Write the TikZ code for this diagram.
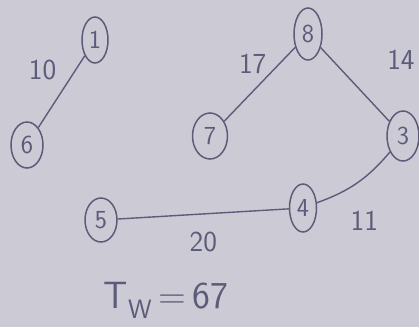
\documentclass[tikz,border=0pt]{standalone}
\usepackage{tikz}
\usetikzlibrary{positioning,shapes.geometric}
\definecolor{paper}{RGB}{204,203,213}
\definecolor{ink}{RGB}{92,92,122}

\begin{document}
\begin{tikzpicture}[
  x=1pt, y=-1pt,
  vtx/.style={draw=ink,line width=1.5pt,ellipse,inner sep=0pt,minimum width=30,minimum height=46,
    text=ink,font=\sffamily\fontsize{26}{26}\selectfont},
  edge/.style={draw=ink,line width=1.4pt},
  wt/.style={text=ink,font=\sffamily\fontsize{29}{29}\selectfont}
  ]

   \fill [paper] (0,0) rectangle (419,327);
   \useasboundingbox (0,0) rectangle (419,327);

   % left tree
   \node (n1) [vtx,minimum width=26] at (95,40) {1};
   \node (n6) [vtx,minimum width=32] at (27,145) {6};
   \draw [edge] (n6) to node[wt,shift={(-19,-22)}] {10} (n1);

   % right tree
   \node (n8) [vtx,minimum width=28,minimum height=52] at (308,34) {8};
   \node (n7) [vtx,minimum width=35] at (210,136) {7};
   \node (n3) [vtx,minimum width=32,minimum height=50] at (403,136) {3};
   \node (n4) [vtx,minimum width=27,minimum height=48] at (303,208) {4};
   \node (n5) [vtx,minimum width=32,minimum height=44] at (101,220) {5};

   \draw [edge] (n7) to node[wt,shift={(-7,-20)}] {17} (n8);
   \draw [edge] (n8) to node[wt,shift={(46,-25)}] {14} (n3);
   \draw [edge] (n3) to[bend left=15] node[wt,shift={(7,38)}] {11} (n4);
   \draw [edge] (n4) to node[wt,shift={(0,28)}] {20} (n5);

   \node (tw) [text=ink,font=\sffamily\fontsize{38}{38}\selectfont] at (166,300) {T\textsubscript{W}\,=\,67};

\end{tikzpicture}
\end{document}
